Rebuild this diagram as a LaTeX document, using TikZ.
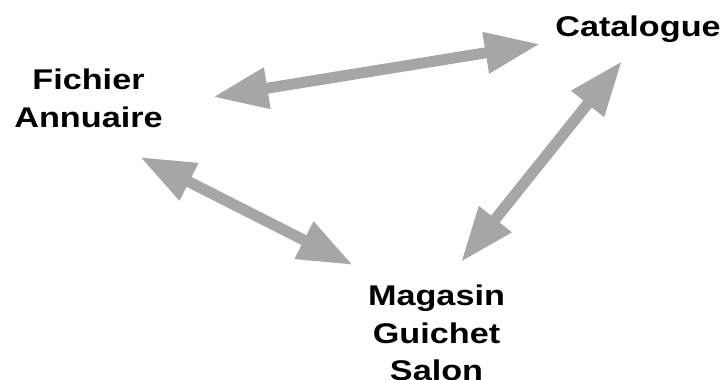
\documentclass[tikz,border=0pt]{standalone}
\usepackage{fontspec}
\setmainfont{Liberation Sans}
\usepackage{graphicx}
\usetikzlibrary{arrows.meta}
\definecolor{linkgray}{RGB}{166,166,166}
\newcommand\widetxt[1]{\scalebox{1.2}[1]{#1}}
\begin{document}
\begin{tikzpicture}[x=1pt,y=-1pt,
  label/.style={font=\fontsize{28.5}{37.7}\selectfont\bfseries, inner sep=0pt, align=center},
  link/.style={draw=linkgray, line width=11pt,
    {Triangle[length=55pt,width=39pt]}-{Triangle[length=55pt,width=39pt]}}]
\useasboundingbox (0,0) rectangle (724,380);
% places
\node[label, anchor=base] (cat) at (638,37) {\widetxt{Catalogue}};
\node[label, anchor=north] (fich) at (88.5,68.5) {\widetxt{Fichier}\\\widetxt{Annuaire}};
\node[label, anchor=north] (mag) at (436.5,284.5) {\widetxt{Magasin}\\\widetxt{Guichet}\\\widetxt{Salon}};
% arrow ends
\coordinate (fich-e) at (213,97);
\coordinate (cat-w) at (540,44);
\coordinate (fich-s) at (140,157);
\coordinate (mag-nw) at (353,265);
\coordinate (cat-s) at (622,61);
\coordinate (mag-ne) at (461,262);
% links
\draw[link] (fich-e) -- (cat-w);
\draw[link] (fich-s) -- (mag-nw);
\draw[link] (cat-s) -- (mag-ne);
\end{tikzpicture}
\end{document}
